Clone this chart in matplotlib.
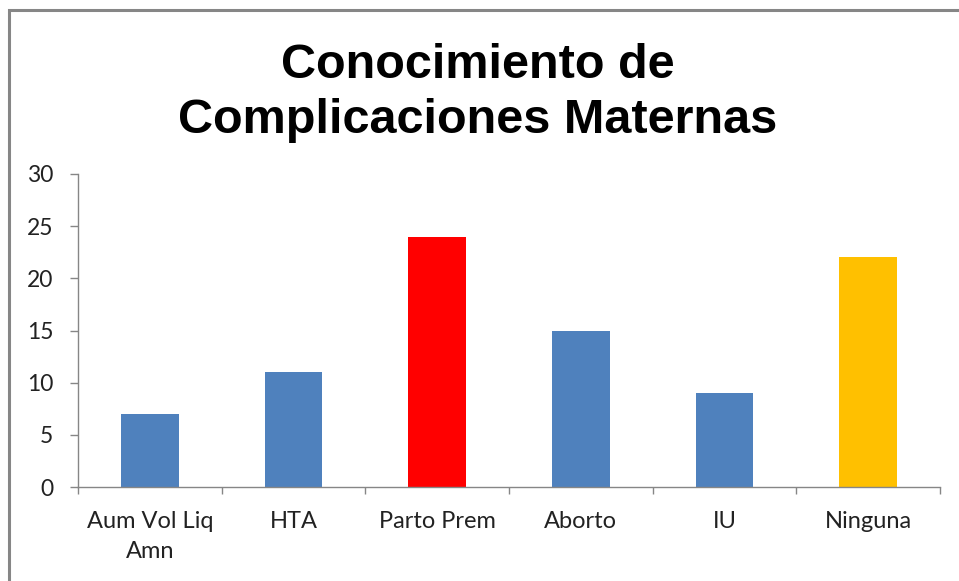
import matplotlib.pyplot as plt
from matplotlib.patches import Rectangle

categories = ["Aum Vol Liq\nAmn", "HTA", "Parto Prem", "Aborto", "IU", "Ninguna"]
values = [7, 11, 24, 15, 9, 22]
colors = ["#4F81BD", "#4F81BD", "#FF0000", "#4F81BD", "#4F81BD", "#FFC000"]
y_ticks = [0, 5, 10, 15, 20, 25, 30]

W, H = 959, 581
fig = plt.figure(figsize=(W / 100, H / 100), dpi=100)

# outer chart border (left and top visible, right/bottom run off the image)
fig.patches.append(Rectangle((9 / W, -0.1), 1.2, 1 - 10 / H + 0.1,
                             transform=fig.transFigure, fill=False,
                             edgecolor="#868686", lw=2.2))

ax = fig.add_axes([78 / W, 1 - 487 / H, (940 - 78) / W, (487 - 174) / H])
x = list(range(len(categories)))
ax.bar(x, values, width=0.4, color=colors)

ax.set_xlim(-0.5, len(categories) - 0.5)
ax.set_ylim(0, 30)
ax.set_yticks(y_ticks)
ax.set_xticks(x)
ax.set_xticklabels(categories, fontsize=17, family="Lato", color="#222222",
                   linespacing=1.55)
ax.tick_params(axis="x", length=0, pad=17)
ax.set_xticks([i - 0.5 for i in range(len(categories) + 1)], minor=True)
ax.tick_params(axis="x", which="minor", length=5, color="#868686", width=1)
ax.tick_params(axis="y", length=5.8, color="#868686", width=1, pad=12,
               labelsize=16.5, labelcolor="#222222")
for lab in ax.get_yticklabels():
    lab.set_family("Lato")

for s in ["top", "right"]:
    ax.spines[s].set_visible(False)
for s in ["left", "bottom"]:
    ax.spines[s].set_color("#868686")
    ax.spines[s].set_linewidth(1)

fig.text(478 / W, 1 - 93 / H, "Conocimiento de\nComplicaciones Maternas",
         ha="center", va="center", fontsize=35, fontweight="bold",
         family="Liberation Sans", linespacing=1.28)

fig.savefig("out.png", dpi=100)
